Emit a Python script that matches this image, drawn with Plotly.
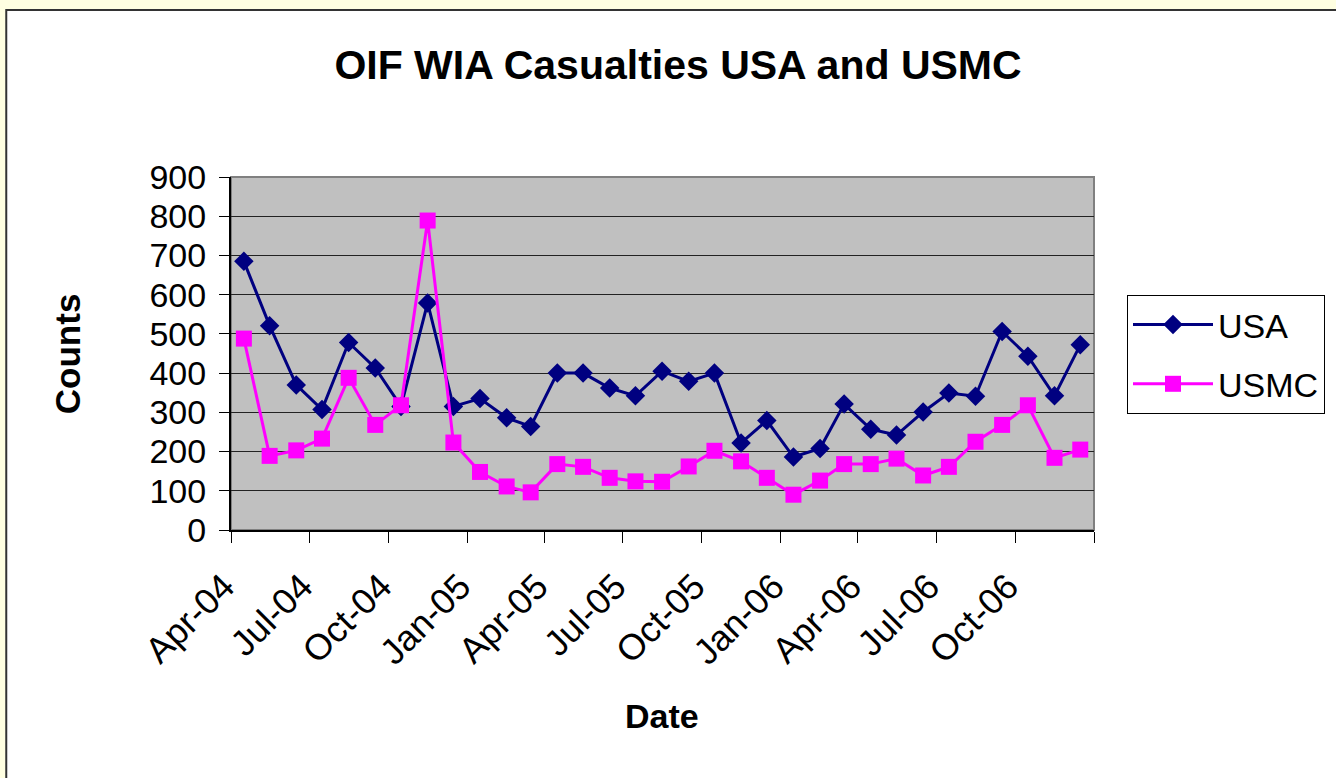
import pandas as pd
import plotly.graph_objects as go

# ---- data ----
months = pd.date_range("2004-04-01", periods=33, freq="MS")
usa = [685, 521, 370, 307, 478, 413, 315, 579, 315,
       335, 286, 264, 400, 400, 362, 342, 405, 379, 400, 222, 279,
       186, 208, 321, 257, 242, 301, 349, 341, 506, 443, 342, 472]
usmc = [488, 189, 203, 233, 388, 268, 318, 789, 223,
        148, 111, 96, 168, 161, 133, 124, 123, 162, 202, 175, 133,
        90, 126, 168, 168, 182, 139, 161, 225, 268, 318, 184, 205]
tick_dates = pd.date_range("2004-04-01", "2007-01-01", freq="3MS")
tick_labels = ["Apr-04", "Jul-04", "Oct-04", "Jan-05", "Apr-05", "Jul-05",
               "Oct-05", "Jan-06", "Apr-06", "Jul-06", "Oct-06", ""]
y_ticks = [0, 100, 200, 300, 400, 500, 600, 700, 800, 900]

# points sit in the middle of each month (Excel "between tick marks")
x_mid = months + pd.Timedelta(days=15)

W, H = 1336, 778
L, R, T, B = 231, 241, 177, 248
PW, PH = W - L - R, H - T - B


def px_x(p):
    return (p - L) / PW


def px_y(p):
    return (H - B - p) / PH


FONT = "Liberation Sans, Arial, sans-serif"

fig = go.Figure()
fig.add_trace(go.Scatter(
    x=x_mid, y=usa, name="USA", mode="lines+markers",
    line=dict(color="#000080", width=3),
    marker=dict(symbol="diamond", size=15, color="#000080"),
    legendgroup="a"))
fig.add_trace(go.Scatter(
    x=x_mid, y=usmc, name="USMC", mode="lines+markers",
    line=dict(color="#FF00FF", width=3),
    marker=dict(symbol="square", size=16, color="#FF00FF"),
    legendgroup="b"))

shapes = [
    # white chart area with dark frame
    dict(type="rect", xref="paper", yref="paper", layer="below",
         x0=px_x(6), x1=px_x(1360), y0=px_y(800), y1=px_y(10),
         fillcolor="white", line=dict(color="#333333", width=2)),
    # gray plot area
    dict(type="rect", xref="paper", yref="paper", layer="below",
         x0=0, x1=1, y0=0, y1=1,
         fillcolor="#C0C0C0", line=dict(color="#808080", width=2)),
]

fig.update_layout(
    width=W, height=H,
    margin=dict(l=L, r=R, t=T, b=B),
    paper_bgcolor="#FFFFE1",
    plot_bgcolor="rgba(0,0,0,0)",
    font=dict(family=FONT, color="black"),
    shapes=shapes,
    title=dict(text="<b>OIF WIA Casualties USA and USMC</b>",
               x=678 / W, xref="container", xanchor="center",
               y=1 - 65 / H, yref="container", yanchor="middle",
               font=dict(size=41, family=FONT, color="black")),
    showlegend=True,
    legend=dict(x=px_x(1127), y=px_y(295), xanchor="left", yanchor="top",
                bgcolor="white", bordercolor="black", borderwidth=1,
                font=dict(size=34, family=FONT, color="black"),
                itemwidth=80, tracegroupgap=12),
    annotations=[
        dict(text="<b>Counts</b>", xref="paper", yref="paper",
             x=px_x(67), y=px_y(354), textangle=-90, showarrow=False,
             xanchor="center", yanchor="middle",
             font=dict(size=35, family=FONT, color="black")),
        dict(text="<b>Date</b>", xref="paper", yref="paper",
             x=px_x(662), y=px_y(716), showarrow=False,
             xanchor="center", yanchor="middle",
             font=dict(size=34, family=FONT, color="black")),
    ],
)

fig.update_xaxes(
    type="date", range=["2004-04-01", "2007-01-01"],
    tickvals=tick_dates, ticktext=tick_labels, tickangle=-45,
    ticks="outside", ticklen=11, tickcolor="black", tickwidth=1,
    showline=True, linecolor="black", linewidth=2,
    showgrid=False, zeroline=False,
    ticklabelstandoff=8, ticklabelshift=-7,
    tickfont=dict(size=36, family=FONT, color="black"))
fig.update_yaxes(
    range=[0, 900], tickvals=y_ticks,
    ticks="outside", ticklen=10, tickcolor="black", tickwidth=1,
    showline=True, linecolor="black", linewidth=2,
    showgrid=True, gridcolor="#222222", gridwidth=1, zeroline=False,
    ticklabelstandoff=6,
    tickfont=dict(size=34, family=FONT, color="black"))

fig.write_html(
    "out.html",
    config={"displayModeBar": False},
    post_script="document.body.style.margin='0';"
                "document.body.style.background='#FFFFE1';")
